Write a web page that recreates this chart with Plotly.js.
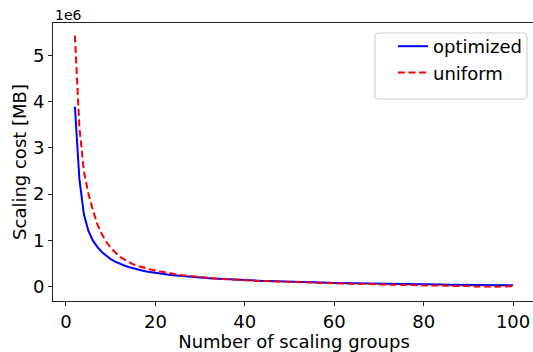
<!DOCTYPE html>
<html>
<head>
<meta charset="utf-8">
<script src="https://cdn.plot.ly/plotly-3.0.1.min.js"></script>
<style>
html, body { margin: 0; padding: 0; overflow: hidden; background: #fff; }
#chart { width: 537px; height: 352px; }
</style>
</head>
<body>
<div id="chart"></div>
<script>
// Number of scaling groups
const groups = [2,3,4,5,6,7,8,9,10,11,12,13,14,15,16,17,18,19,20,21,22,23,24,25,26,27,28,29,30,31,32,33,34,35,36,37,38,39,40,41,42,43,44,45,46,47,48,49,50,51,52,53,54,55,56,57,58,59,60,61,62,63,64,65,66,67,68,69,70,71,72,73,74,75,76,77,78,79,80,81,82,83,84,85,86,87,88,89,90,91,92,93,94,95,96,97,98,99,100];

// Scaling cost [MB], in units of 1e6
const optimized = [3.89,2.33,1.57,1.21,1.0,0.86,0.75,0.665,0.595,0.54,0.495,0.457,0.425,0.397,0.372,0.35,0.33,0.313,0.297,0.283,0.27,0.258,0.247,0.237,0.227,0.218,0.21,0.202,0.195,0.188,0.182,0.176,0.17,0.164,0.158,0.153,0.148,0.144,0.14,0.136,0.132,0.128,0.125,0.122,0.118,0.115,0.112,0.109,0.106,0.103,0.1,0.097,0.095,0.092,0.09,0.087,0.085,0.083,0.081,0.079,0.077,0.075,0.073,0.071,0.07,0.068,0.066,0.065,0.063,0.062,0.06,0.059,0.057,0.056,0.055,0.053,0.052,0.051,0.05,0.048,0.047,0.046,0.045,0.044,0.043,0.041,0.04,0.039,0.038,0.037,0.036,0.035,0.034,0.033,0.032,0.031,0.03,0.029,0.028];

const uniform = [5.43,3.45,2.50,2.02,1.67,1.35,1.14,0.97,0.84,0.74,0.65,0.59,0.53,0.485,0.45,0.42,0.395,0.37,0.35,0.33,0.31,0.29,0.275,0.26,0.248,0.236,0.225,0.215,0.205,0.196,0.188,0.18,0.172,0.165,0.158,0.15,0.147,0.14,0.138,0.132,0.13,0.124,0.122,0.116,0.115,0.11,0.108,0.103,0.102,0.097,0.096,0.09,0.09,0.086,0.083,0.08,0.079,0.074,0.074,0.07,0.068,0.064,0.065,0.058,0.06,0.055,0.055,0.05,0.052,0.046,0.047,0.042,0.043,0.037,0.04,0.034,0.035,0.03,0.031,0.026,0.028,0.022,0.024,0.018,0.02,0.013,0.017,0.01,0.013,0.006,0.01,0.002,0.006,-0.004,0.0,-0.01,-0.004,0.004,0.012];

const xTicks = [0,20,40,60,80,100];
const yTicks = [0,1,2,3,4,5];

const FONT = 'DejaVu Sans, sans-serif';
const FS = 18;
const PW = 482, PH = 278, ML = 53, MT = 23;

const traces = [
  { x: groups, y: optimized, type: 'scatter', mode: 'lines', name: 'optimized',
    line: { color: '#0000ff', width: 2 } },
  { x: groups, y: uniform, type: 'scatter', mode: 'lines', name: 'uniform',
    line: { color: '#ff0000', width: 2, dash: '7px,3.5px' } }
];

const axisCommon = {
  showline: true, linecolor: '#222', linewidth: 1, mirror: true,
  ticks: 'outside', ticklen: 4, tickwidth: 1, tickcolor: '#222',
  showgrid: false, zeroline: false,
  tickfont: { family: FONT, size: FS, color: '#000' }
};

const px = v => (v - ML) / PW;
const py = v => 1 - (v - MT) / PH;

// rounded legend frame (pixel corners converted to paper coords)
function roundedBox(x0, y0, x1, y1, r) {
  const P = (x, y) => px(x) + ',' + py(y);
  return 'M' + P(x0 + r, y0) + ' L' + P(x1 - r, y0) + ' Q' + P(x1, y0) + ' ' + P(x1, y0 + r) +
         ' L' + P(x1, y1 - r) + ' Q' + P(x1, y1) + ' ' + P(x1 - r, y1) +
         ' L' + P(x0 + r, y1) + ' Q' + P(x0, y1) + ' ' + P(x0, y1 - r) +
         ' L' + P(x0, y0 + r) + ' Q' + P(x0, y0) + ' ' + P(x0 + r, y0) + ' Z';
}

const layout = {
  width: 537, height: 352, autosize: false,
  margin: { l: ML, r: 2, t: MT, b: 51, pad: 0 },
  paper_bgcolor: '#fff', plot_bgcolor: '#fff',
  font: { family: FONT, color: '#000' },
  xaxis: Object.assign({}, axisCommon, {
    range: [-2.9, 104.9], tickmode: 'array', tickvals: xTicks, ticktext: xTicks.map(String),
    title: { text: 'Number of scaling groups', font: { family: FONT, size: FS, color: '#000' }, standoff: 1 }
  }),
  yaxis: Object.assign({}, axisCommon, {
    range: [-0.31, 5.70], tickmode: 'array', tickvals: yTicks, ticktext: yTicks.map(String),
    title: { text: 'Scaling cost [MB]', font: { family: FONT, size: FS, color: '#000' }, standoff: 1 }
  }),
  legend: {
    x: px(527), xanchor: 'right', y: py(28), yanchor: 'top',
    bgcolor: 'rgba(0,0,0,0)', borderwidth: 0,
    font: { family: FONT, size: FS, color: '#000' }
  },
  shapes: [
    { type: 'path', xref: 'paper', yref: 'paper', layer: 'above',
      path: roundedBox(375, 33, 527, 99, 3),
      fillcolor: 'rgba(255,255,255,0.85)', line: { color: '#cccccc', width: 1 } }
  ],
  annotations: [
    { text: '1e6', xref: 'paper', yref: 'paper', x: 0, xanchor: 'left', y: 1, yanchor: 'bottom',
      yshift: -2, showarrow: false, font: { family: FONT, size: 14, color: '#000' } }
  ]
};

Plotly.newPlot('chart', traces, layout, { staticPlot: true, displayModeBar: false });
</script>
</body>
</html>
